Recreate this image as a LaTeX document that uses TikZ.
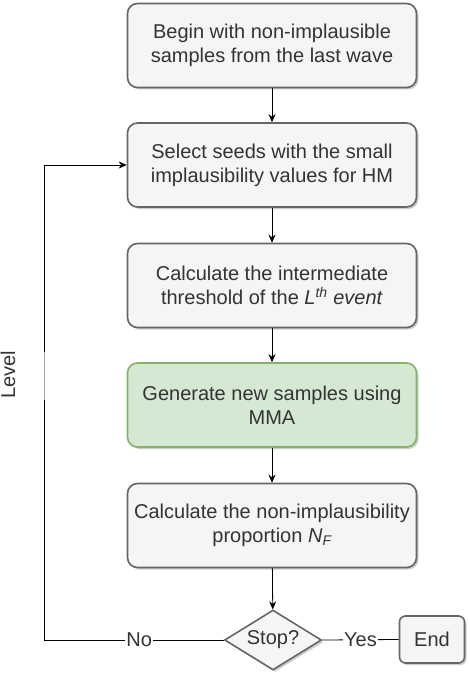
\documentclass[tikz,border=0pt]{standalone}
\usepackage{fontspec}
\setmainfont{Liberation Sans}
\usetikzlibrary{shapes.geometric,shadows,arrows.meta}
\definecolor{boxfill}{HTML}{F5F5F5}
\definecolor{boxline}{HTML}{666666}
\definecolor{txt}{HTML}{333333}
\definecolor{gfill}{HTML}{D5E8D4}
\definecolor{gline}{HTML}{82B366}
\begin{document}
\begin{tikzpicture}[x=1pt,y=-1pt,
  every node/.style={font=\fontsize{20}{24}\selectfont, text=txt},
  procbox/.style={draw=boxline, fill=boxfill, line width=1.6pt, rounded corners=10pt,
    minimum width=289pt, minimum height=84pt, align=center, inner sep=2pt,
    drop shadow={opacity=0.4, shadow xshift=2pt, shadow yshift=-2pt}},
  greenbox/.style={procbox, draw=gline, fill=gfill},
  decision/.style={draw=boxline, fill=boxfill, line width=1.6pt, shape=diamond,
    minimum width=97pt, minimum height=60pt, inner sep=0pt, aspect=1.6,
    drop shadow={opacity=0.4, shadow xshift=2pt, shadow yshift=-2pt}},
  endbox/.style={draw=boxline, fill=boxfill, line width=1.6pt, rounded corners=6pt,
    minimum width=65pt, minimum height=47pt, inner sep=2pt,
    drop shadow={opacity=0.4, shadow xshift=2pt, shadow yshift=-2pt}},
  conn/.style={draw=black, line width=0.8pt},
  arr/.style={conn, -{Stealth[length=8pt,width=7pt]}},
  lbl/.style={fill=white, inner sep=1pt, text=txt}]
\useasboundingbox (0,0) rectangle (470,676);

\node[procbox] (b1) at (272,45.5) {Begin with non-implausible\\samples from the last wave};
\node[procbox] (b2) at (272,165) {Select seeds with the small\\implausibility values for HM};
\node[procbox] (b3) at (272,285.5) {Calculate the intermediate\\threshold of the \textit{L}\textsuperscript{\textit{th}} \textit{event}};
\node[greenbox] (b4) at (272,405) {Generate new samples using\\MMA};
\node[procbox] (b5) at (272,525.5) {Calculate the non-implausibility\\proportion \textit{N\textsubscript{F}}};
\node[decision] (d) at (273,640) {Stop?};
\node[endbox] (e) at (432,639.5) {End};

\draw[arr] (b1) -- (b2);
\draw[arr] (b2) -- (b3);
\draw[arr] (b3) -- (b4);
\draw[arr] (b4) -- (b5);
\draw[arr] (b5) -- (d);

\coordinate (c1) at (44,640);
\coordinate (c2) at (44,400);
\coordinate (c3) at (44,352);
\coordinate (c4) at (44,165);
\draw[conn] (d.west) -- node[lbl, pos=0.47] (no) {No} (c1) -- (c2);
\draw[draw=black!35, line width=0.8pt] (c2) -- (c3);
\draw[arr] (c3) -- (c4) -- (b2.west);
\node[rotate=90, inner sep=0pt] (lv) at (8,375) {Level};

\draw[conn] (d.east) -- node[lbl] (yes) {Yes} (e.west);
\end{tikzpicture}
\end{document}
